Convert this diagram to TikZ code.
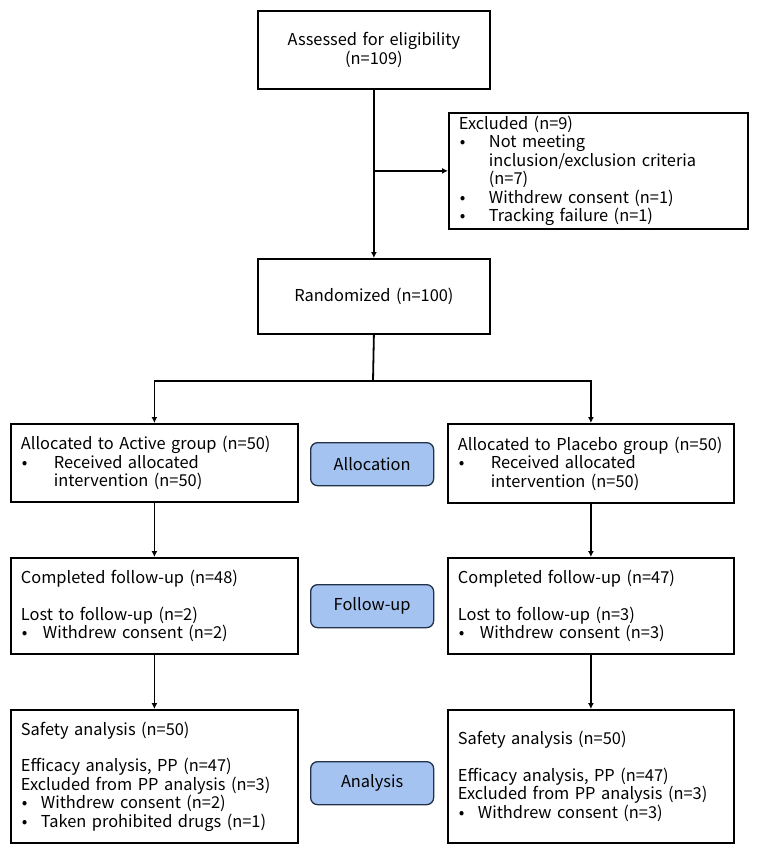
\documentclass[tikz,border=0pt]{standalone}
\usepackage{fontspec}
\setmainfont{Noto Sans CJK KR}
\usetikzlibrary{arrows.meta}
\newcommand\bl[1]{\makebox[#1][l]{\hspace*{1pt}•}}
\newcommand\ind[1]{\hspace*{#1}}
\definecolor{labfill}{RGB}{165,195,240}
\definecolor{labdraw}{RGB}{35,50,75}
\begin{document}
\begin{tikzpicture}[x=1pt,y=-1pt,
  font=\fontsize{16.4}{18.5}\selectfont,
  box/.style={draw, line width=1.8pt, inner ysep=0pt, inner xsep=10pt, anchor=north west, align=left},
  lab/.style={draw=labdraw, fill=labfill, rounded corners=7pt, line width=1.3pt, anchor=north west,
    minimum width=123pt, minimum height=43pt, inner sep=0pt},
  conn/.style={line width=1.8pt},
  arr/.style={conn, -{Latex[length=6pt,width=6pt]}}]
\useasboundingbox (0,0) rectangle (756,851);

\node[box, align=center, text width=212pt, minimum height=78pt] (ass) at (257,10)
  {Assessed for eligibility\\(n=109)};
\node[box, text width=279pt, minimum height=116pt] (exc) at (448,112)
  {Excluded (n=9)\\
   \bl{30pt}Not meeting\\
   \ind{30pt}inclusion/exclusion criteria\\
   \ind{30pt}(n=7)\\
   \bl{30pt}Withdrew consent (n=1)\\
   \bl{30pt}Tracking failure (n=1)};
\node[box, align=center, text width=212pt, minimum height=75pt] (ran) at (257,258)
  {Randomized (n=100)};

\node[box, text width=267pt, minimum height=78pt] (la) at (10,423)
  {Allocated to Active group (n=50)\\
   \bl{33pt}Received allocated\\
   \ind{33pt}intervention (n=50)};
\node[box, text width=266pt, minimum height=79pt] (ra) at (447,423)
  {Allocated to Placebo group (n=50)\\
   \bl{33pt}Received allocated\\
   \ind{33pt}intervention (n=50)};

\node[box, text width=267pt, minimum height=96pt] (lf) at (10,557)
  {Completed follow-up (n=48)\\[18pt]
   Lost to follow-up (n=2)\\
   \bl{22pt}Withdrew consent (n=2)};
\node[box, text width=266pt, minimum height=96pt] (rf) at (447,557)
  {Completed follow-up (n=47)\\[18pt]
   Lost to follow-up (n=3)\\
   \bl{22pt}Withdrew consent (n=3)};

\node[box, text width=267pt, minimum height=133pt] (lan) at (10,709)
  {Safety analysis (n=50)\\[18pt]
   Efficacy analysis, PP (n=47)\\
   Excluded from PP analysis (n=3)\\
   \bl{20pt}Withdrew consent (n=2)\\
   \bl{20pt}Taken prohibited drugs (n=1)};
\node[box, text width=266pt, minimum height=133pt] (ran2) at (447,709)
  {Safety analysis (n=50)\\[18pt]
   Efficacy analysis, PP (n=47)\\
   Excluded from PP analysis (n=3)\\
   \bl{20pt}Withdrew consent (n=3)};

\node[lab] (l1) at (310,442) {Allocation};
\node[lab] (l2) at (310,584) {Follow-up};
\node[lab] (l3) at (310,761) {Analysis};

\draw[arr] (ass.south) -- (ran.north);
\coordinate (j1) at (ass.south |- exc.west);
\draw[arr] (j1) -- (exc.west);
\coordinate (sp) at (373,381);
\draw[conn] (ran.south) -- (sp);
\draw[arr] (sp) -| (la.north);
\draw[arr] (sp) -| (ra.north);
\draw[arr] (la.south) -- (lf.north);
\draw[arr] (ra.south) -- (rf.north);
\draw[arr] (lf.south) -- (lan.north);
\draw[arr] (rf.south) -- (ran2.north);
\end{tikzpicture}
\end{document}
